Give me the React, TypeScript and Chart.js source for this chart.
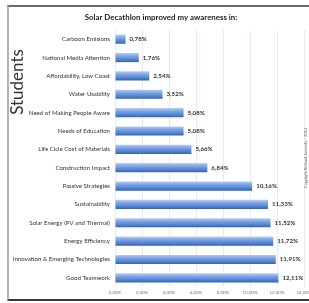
import React, { useEffect, useRef } from "react";
import { Chart, registerables } from "chart.js";

Chart.register(...registerables);

const categories = [
  "Carboon Emisions",
  "National Media Attention",
  "Affordability, Low Coast",
  "Water Usability",
  "Need of Making People Aware",
  "Needs of Education",
  "Life Cicle Cost of Materials",
  "Construction Impact",
  "Passive Strategies",
  "Sustainability",
  "Solar Energy (PV and Thermal)",
  "Energy Efficiency",
  "Innovation & Emerging Technologies",
  "Good Teamwork",
];
const values = [0.78, 1.76, 2.54, 3.52, 5.08, 5.08, 5.66, 6.84, 10.16, 11.33, 11.52, 11.72, 11.91, 12.11];
const xTicks = [0, 2, 4, 6, 8, 10, 12, 14];
const titleText = "Solar Decathlon improved my awareness in:";
const yTitle = "Students";
const copyright = "Copyright Richard Azevedo - 2014";

const fmt = (v: number) => v.toFixed(2).replace(".", ",") + "%";
const FONT = "Lato, 'Liberation Sans', sans-serif";

const textPlugin = {
  id: "texts",
  afterDatasetsDraw(chart: any) {
    const ctx = chart.ctx;
    const meta = chart.getDatasetMeta(0);
    ctx.save();
    ctx.fillStyle = "#333";
    ctx.font = `bold 6.2px ${FONT}`;
    ctx.textAlign = "left";
    ctx.textBaseline = "middle";
    meta.data.forEach((el: any, i: number) => {
      ctx.fillText(fmt(values[i]), el.x + 4, el.y);
    });
    ctx.restore();
  },
  afterDraw(chart: any) {
    const ctx = chart.ctx;
    ctx.save();
    ctx.fillStyle = "#222";
    ctx.font = `bold 7.9px ${FONT}`;
    ctx.textAlign = "center";
    ctx.textBaseline = "middle";
    ctx.fillText(titleText, 161, 17);

    ctx.translate(18, 82);
    ctx.rotate(-Math.PI / 2);
    ctx.font = `17px ${FONT}`;
    ctx.fillStyle = "#333";
    ctx.fillText(yTitle, 0, 0);
    ctx.restore();

    ctx.save();
    ctx.translate(306, 158);
    ctx.rotate(-Math.PI / 2);
    ctx.font = `4px ${FONT}`;
    ctx.fillStyle = "#666";
    ctx.textAlign = "center";
    ctx.textBaseline = "middle";
    ctx.fillText(copyright, 0, 0);
    ctx.restore();
  },
};

export default function App() {
  const ref = useRef<HTMLCanvasElement>(null);
  useEffect(() => {
    if (!ref.current) return;
    const chart = new Chart(ref.current, {
      type: "bar",
      data: {
        labels: categories,
        datasets: [
          {
            data: values,
            backgroundColor: (c: any) => {
              const ch = c.chart;
              const ys = ch.scales && ch.scales.y;
              if (!ys || !ch.chartArea || c.dataIndex === undefined) return "#4f81bd";
              const yc = ys.getPixelForValue(c.dataIndex);
              const h = 4.6;
              const g = ch.ctx.createLinearGradient(0, yc - h, 0, yc + h);
              g.addColorStop(0, "#b7cdee");
              g.addColorStop(0.35, "#7ea4e2");
              g.addColorStop(0.75, "#4d7fd2");
              g.addColorStop(1, "#3563b3");
              return g;
            },
            borderWidth: 0,
            barPercentage: 0.5,
            categoryPercentage: 1,
          },
        ],
      },
      options: {
        indexAxis: "y",
        animation: false,
        responsive: false,
        layout: { padding: { left: 0, right: 16, top: 30, bottom: 0 } },
        plugins: { legend: { display: false }, tooltip: { enabled: false }, title: { display: false } },
        scales: {
          x: {
            min: 0,
            max: 14,
            afterBuildTicks: (s: any) => {
              s.ticks = xTicks.map((v) => ({ value: v }));
            },
            afterFit: (s: any) => {
              s.height = 16;
            },
            ticks: {
              callback: (v: any) => fmt(Number(v)),
              font: { size: 4.5, family: FONT },
              color: "#5b7bb5",
              padding: 3,
              maxRotation: 0,
            },
            grid: { color: "#e4ebf6", drawTicks: false },
            border: { display: false },
          },
          y: {
            afterFit: (s: any) => {
              s.width = 115;
            },
            ticks: {
              font: { size: 6.1, family: FONT },
              color: "#333",
              padding: 5,
              autoSkip: false,
            },
            grid: { display: false, drawTicks: false },
            border: { display: false },
          },
        },
      },
      plugins: [textPlugin],
    } as any);
    return () => chart.destroy();
  }, []);

  return (
    <div style={{ position: "fixed", left: 0, top: 0, width: 309, height: 303, overflow: "hidden", background: "#fff" }}>
      <div
        style={{
          position: "absolute",
          left: 7,
          top: 5,
          width: 330,
          height: 292,
          borderTop: "2px solid #6a6a6a",
          borderLeft: "2px solid #b3b3b3",
          borderBottom: "2px solid #3a3a3a",
        }}
      />
      <canvas ref={ref} width={320} height={303} style={{ position: "absolute", left: 0, top: 0 }} />
    </div>
  );
}
